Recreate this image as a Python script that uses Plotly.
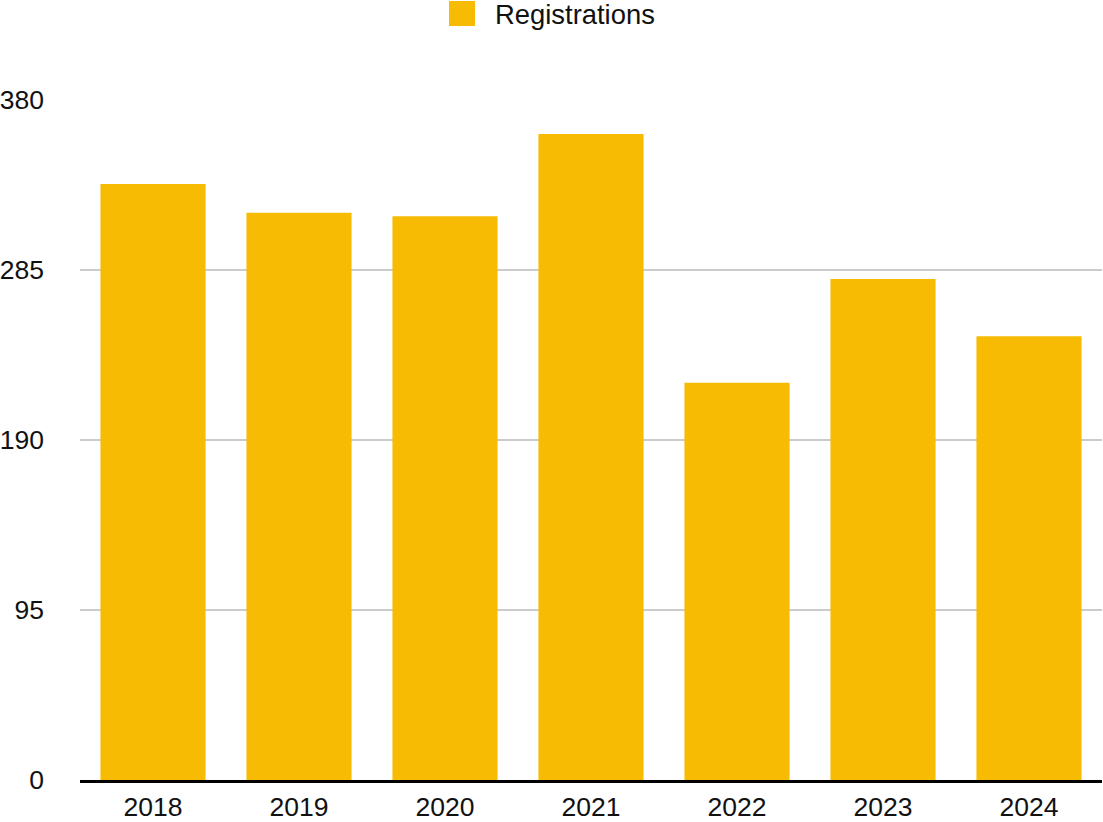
import plotly.graph_objects as go

years = ["2018", "2019", "2020", "2021", "2022", "2023", "2024"]
registrations = [333, 317, 315, 361, 222, 280, 248]
tick_vals = [0, 95, 190, 285, 380]
series_name = "Registrations"
bar_color = "#F6BB02"

fig = go.Figure()
fig.add_trace(go.Bar(x=years, y=registrations, marker=dict(color=bar_color, line=dict(width=0)),
                     name=series_name, showlegend=False))

fig.update_layout(
    width=1103, height=822,
    margin=dict(l=80, r=1, t=100, b=42),
    plot_bgcolor="white", paper_bgcolor="white",
    font=dict(family="Liberation Sans, Arial, sans-serif", size=26.5, color="#111111"),
    bargap=0.28,
    showlegend=False,
    xaxis=dict(showgrid=False, showline=True, linecolor="black", linewidth=3, ticks="",
               tickfont=dict(size=26.5), ticklabelstandoff=1, automargin=False),
    yaxis=dict(range=[0, 380], tickvals=tick_vals, ticktext=[str(v) for v in tick_vals],
               showgrid=True, gridcolor="#CBCBCB", gridwidth=1.5, zeroline=False,
               showline=False, ticks="", ticklabelstandoff=35, tickfont=dict(size=26.5),
               automargin=False),
)

# legend: swatch + label above the plot
fig.add_shape(type="rect", xref="paper", yref="paper", xsizemode="pixel", ysizemode="pixel",
              xanchor=0, yanchor=1, x0=369, x1=395, y0=74, y1=99,
              fillcolor=bar_color, line=dict(width=0))
fig.add_annotation(text=series_name, xref="paper", yref="paper", x=(493 - 80) / 1022,
                   y=1 + (100 - 14.5) / 680, xanchor="left", yanchor="middle",
                   showarrow=False, font=dict(size=27.4, color="#111111"))

fig.write_html("out.html", config={"displayModeBar": False},
               post_script="document.body.style.margin='0';")
